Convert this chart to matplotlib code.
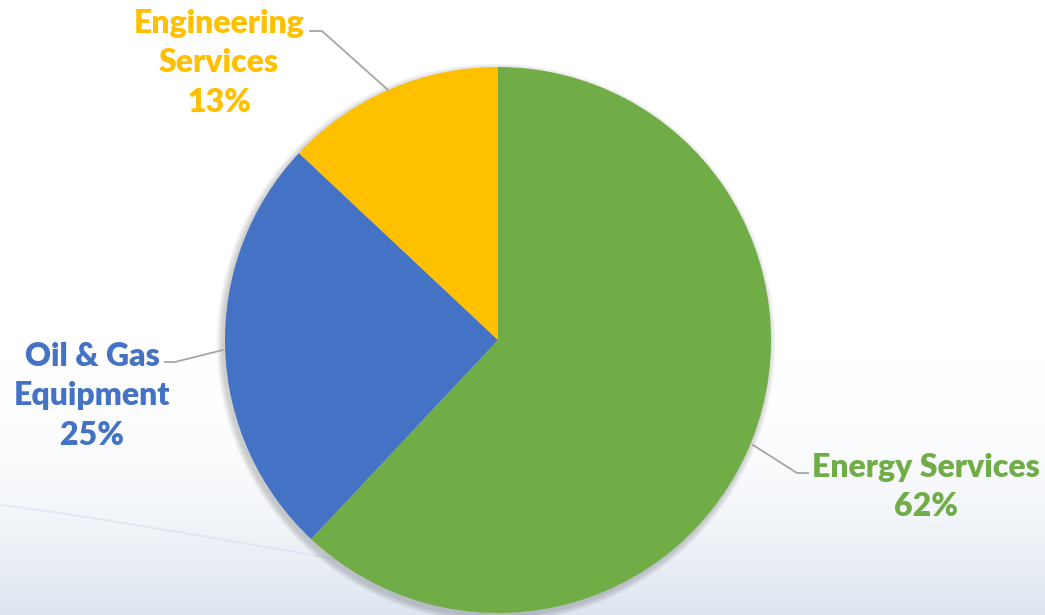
import matplotlib
matplotlib.use("Agg")
import matplotlib.pyplot as plt
import numpy as np
from matplotlib.patches import Circle

categories = ["Energy Services", "Oil & Gas Equipment", "Engineering Services"]
label_text = ["Energy Services\n62%", "Oil & Gas\nEquipment\n25%", "Engineering\nServices\n13%"]
values = [62, 25, 13]
colors = ["#70AD47", "#4472C4", "#FFC000"]

W, H = 1045, 615
fig = plt.figure(figsize=(W / 100, H / 100), dpi=100)
ax = fig.add_axes([0, 0, 1, 1])

# background gradient (white to pale blue-grey at bottom)
n = 400
grad = np.linspace(0, 1, n)[:, None]
t = grad ** 2.0
top = np.array([1.0, 1.0, 1.0])
bot = np.array([0.87, 0.90, 0.94])
img = (top[None, None, :] * (1 - t[..., None]) + bot[None, None, :] * t[..., None])
img = np.repeat(img, 2, axis=1)
ax.imshow(img, extent=[0, W, 0, 260], origin="upper", aspect="auto", zorder=0)
ax.add_patch(plt.Rectangle((0, 260), W, H - 260, color="white", zorder=0))
# faint swoosh
xs = np.linspace(0, 340, 100)
ys = 615 - (505 + 55 * (xs / 340) ** 1.1)
ax.plot(xs, ys, color="#d4daee", lw=1.5, alpha=0.5, zorder=0.5)

cx, cy, r = 498, 615 - 340, 273
# soft shadow
for i in range(8):
    ax.add_patch(Circle((cx - 2, cy - 3), r + 1 + i * 0.8, color="black",
                        alpha=0.022, lw=0, zorder=1))

wedges, _ = ax.pie(values, colors=colors, startangle=90, counterclock=False,
                   center=(cx, cy), radius=r,
                   wedgeprops=dict(linewidth=0, zorder=2))
for w in wedges:
    w.set_zorder(2)

font = dict(family=["Lato", "DejaVu Sans"], fontweight="heavy", fontsize=23,
            ha="center", va="center", linespacing=1.43)
pos = [(926, 615 - 487), (92, 615 - 396), (219, 615 - 63)]
for txt, c, p in zip(label_text, colors, pos):
    ax.text(p[0], p[1], txt, color=c, zorder=3, **font)

# leader lines
lc = "#a6a6a6"
leaders = [
    [(753, 445), (797, 473), (808, 473)],
    [(165, 362), (175, 362), (223, 350)],
    [(310, 31), (322, 31), (388, 90)],
]
for pts in leaders:
    px = [p[0] for p in pts]
    py = [615 - p[1] for p in pts]
    ax.plot(px, py, color=lc, lw=1.3, zorder=3)

ax.set_xlim(0, W)
ax.set_ylim(0, H)
ax.set_aspect("auto")
ax.axis("off")
fig.savefig("out.png", dpi=100)
